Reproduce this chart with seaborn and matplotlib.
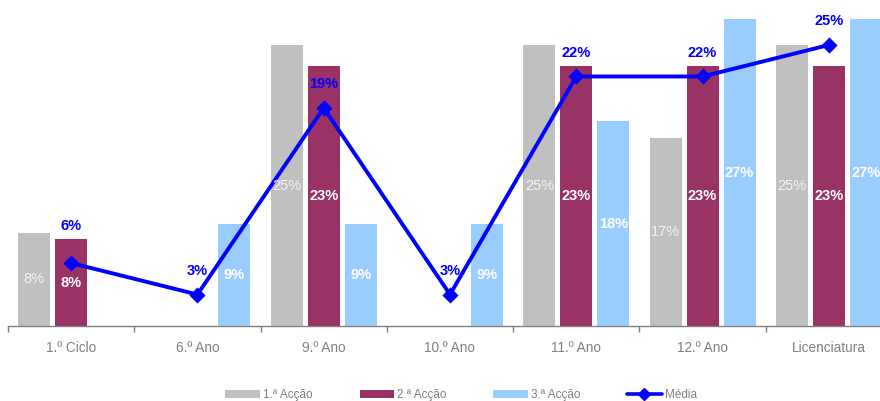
import matplotlib
matplotlib.use("Agg")
import matplotlib.pyplot as plt
import seaborn as sns
import pandas as pd
import numpy as np
from matplotlib.patches import Patch
from matplotlib.lines import Line2D

categories = ["1.º Ciclo", "6.º Ano", "9.º Ano", "10.º Ano", "11.º Ano", "12.º Ano", "Licenciatura"]
series_names = ["1.ª Acção", "2.ª Acção", "3.ª Acção"]
accao1 = [8.3, 0, 25.0, 0, 25.0, 16.7, 25.0]
accao2 = [7.7, 0, 23.1, 0, 23.1, 23.1, 23.1]
accao3 = [0, 9.1, 9.1, 9.1, 18.2, 27.3, 27.3]
media = [5.6, 2.8, 19.4, 2.8, 22.2, 22.2, 25.0]
media_name = "Média"

colors = ["#C0C0C0", "#993366", "#99CCFF"]
line_color = "#0000FF"
text_gray = "#808080"

sns.set_theme(style="white")
plt.rcParams["font.family"] = ["Liberation Sans", "DejaVu Sans"]

rows = []
for name, vals in zip(series_names, [accao1, accao2, accao3]):
    for c, v in zip(categories, vals):
        rows.append({"cat": c, "serie": name, "val": v})
df = pd.DataFrame(rows)

W, H = 880, 401
fig = plt.figure(figsize=(W / 100, H / 100), dpi=100)
px_per_pct = 11.24
ymax = 29
ax = fig.add_axes([8 / W, 75 / H, 884 / W, ymax * px_per_pct / H])

sns.barplot(data=df, x="cat", y="val", hue="serie", order=categories,
            hue_order=series_names, palette=colors, width=0.878, gap=0.135,
            linewidth=0, edgecolor="none", saturation=1, legend=False, ax=ax)

# bar labels
label_styles = [dict(color="#F4F4F4", fontweight="normal"),
                dict(color="white", fontweight="bold"),
                dict(color="white", fontweight="bold")]
for cont, vals, st in zip(ax.containers, [accao1, accao2, accao3], label_styles):
    labs = [f"{round(v)}%" if v > 0 else "" for v in vals]
    ax.bar_label(cont, labels=labs, label_type="center", fontsize=10.5, **st)

# line (Média)
sns.pointplot(x=categories, y=media, order=categories, color=line_color,
              markers="D", markersize=6.5, linewidth=2.8, errorbar=None, ax=ax)
for i, v in enumerate(media):
    off = 27 if i == 0 else 17
    ax.annotate(f"{round(v)}%", (i, v), xytext=(0, off), textcoords="offset points",
                ha="center", va="center", color=line_color, fontsize=10.5,
                fontweight="bold")

ax.set_xlim(-0.5, len(categories) - 0.5)
ax.set_ylim(0, ymax)
ax.set_xlabel("")
ax.set_ylabel("")
ax.set_yticks([])
for s in ["left", "right", "top"]:
    ax.spines[s].set_visible(False)
ax.spines["bottom"].set_color(text_gray)
ax.spines["bottom"].set_linewidth(1)
ax.set_xticks(range(len(categories)))
ax.set_xticklabels(categories)
ax.set_xticks(np.arange(-0.5, len(categories), 1.0), minor=True)
ax.tick_params(axis="x", which="major", length=0, pad=11, labelsize=9.8,
               labelcolor=text_gray)
ax.tick_params(axis="x", which="minor", length=4, width=1, color=text_gray,
               direction="out", bottom=True)

handles = [Patch(facecolor=c, edgecolor="none", label=n) for c, n in zip(colors, series_names)]
handles.append(Line2D([0], [0], color=line_color, lw=2.6, marker="D", markersize=6,
                      label=media_name))
leg = fig.legend(handles=handles, loc="center", bbox_to_anchor=(461 / W, 6 / H),
                 ncol=4, frameon=False, fontsize=8.5, handlelength=2.9,
                 handleheight=0.7, handletextpad=0.25, columnspacing=4.0)
for t in leg.get_texts():
    t.set_color(text_gray)

fig.savefig("out.png", dpi=100)
